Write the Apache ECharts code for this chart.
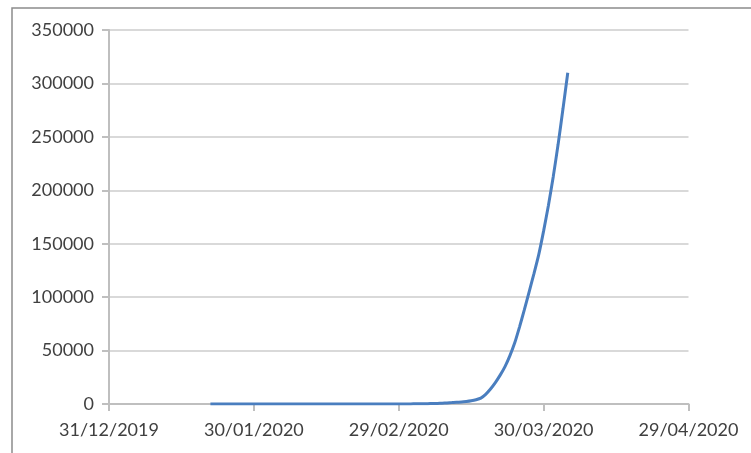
<!DOCTYPE html>
<html>
<head>
<meta charset="utf-8">
<script src="https://cdn.jsdelivr.net/npm/echarts@6/dist/echarts.min.js"></script>
<style>
  html, body { margin: 0; padding: 0; background: #fff; }
  #chart { width: 751px; height: 453px; }
</style>
</head>
<body>
<div id="chart"></div>
<script>
// Cumulative confirmed cases, one entry per day (dd/mm/yyyy)
const startDate = '21/01/2020';
const cumulativeCases = [
  1, 1, 1, 2, 2, 5, 5, 5, 5, 5, 6,                 // 21/01 - 31/01
  7, 8, 11, 11, 11, 12, 12, 12, 12, 12, 13, 13, 14, 15, 15,
  15, 15, 15, 15, 15, 35, 35, 35, 53, 53, 59, 60, 62, 70, // 01/02 - 29/02
  75, 100, 124, 158, 221, 319, 435, 541, 704, 994,        // 01/03 - 10/03
  1301, 1630, 1800, 2300, 3000, 4000, 5500, 9000, 14000, 20000, // 11/03 - 20/03
  27000, 35000, 45000, 57000, 72000, 88000, 105000, 122000, 140000, 162000, // 21/03 - 30/03
  186000, 213000, 243000, 276000, 310000                  // 31/03 - 04/04
];

// Axis range and tick labels
const axisStart = '31/12/2019';
const axisEnd = '29/04/2020';
const xTickLabels = ['31/12/2019', '30/01/2020', '29/02/2020', '30/03/2020', '29/04/2020'];
const yMax = 350000;
const yStep = 50000;

const DAY = 86400000;
function parseDMY(s) {
  const [d, m, y] = s.split('/').map(Number);
  return Date.UTC(y, m - 1, d);
}
function fmtDMY(t) {
  const dt = new Date(t);
  const dd = String(dt.getUTCDate()).padStart(2, '0');
  const mm = String(dt.getUTCMonth() + 1).padStart(2, '0');
  return dd + '/' + mm + '/' + dt.getUTCFullYear();
}

const origin = parseDMY(axisStart);
const spanDays = (parseDMY(axisEnd) - origin) / DAY;
const tickStep = (parseDMY(xTickLabels[1]) - origin) / DAY;
const firstDay = (parseDMY(startDate) - origin) / DAY;
const seriesData = cumulativeCases.map((v, i) => [firstDay + i, v]);

const gridColor = '#d9d9d9';
const axisColor = '#bfbfbf';
const textColor = '#404040';
const fontFamily = 'Lato, "Open Sans", sans-serif';

const chart = echarts.init(document.getElementById('chart'), null, { renderer: 'canvas' });
chart.setOption({
  animation: false,
  backgroundColor: '#ffffff',
  grid: { left: 109, right: 62.5, top: 30, bottom: 49 },
  graphic: [{
    type: 'rect',
    silent: true,
    shape: { x: 12, y: 8, width: 820, height: 520 },
    style: { fill: 'none', stroke: '#8c8c8c', lineWidth: 1.5 }
  }],
  xAxis: {
    type: 'value',
    min: 0,
    max: spanDays,
    interval: tickStep,
    splitLine: { show: false },
    axisLine: { show: true, lineStyle: { color: axisColor, width: 2 } },
    axisTick: { show: true, length: 7, lineStyle: { color: axisColor, width: 2 } },
    axisLabel: {
      margin: 17,
      color: textColor,
      fontFamily: fontFamily,
      fontSize: 18,
      formatter: v => fmtDMY(origin + v * DAY)
    }
  },
  yAxis: {
    type: 'value',
    min: 0,
    max: yMax,
    interval: yStep,
    splitLine: { show: true, lineStyle: { color: gridColor, width: 2 } },
    axisLine: { show: true, lineStyle: { color: axisColor, width: 2 } },
    axisTick: { show: true, length: 7, lineStyle: { color: axisColor, width: 2 } },
    axisLabel: {
      margin: 15,
      color: textColor,
      fontFamily: fontFamily,
      fontSize: 18,
      formatter: v => String(v)
    }
  },
  series: [{
    type: 'line',
    data: seriesData,
    showSymbol: false,
    symbol: 'none',
    smooth: 0.2,
    lineStyle: { color: '#4a7ebf', width: 3 },
    z: 3
  }]
});
</script>
</body>
</html>
